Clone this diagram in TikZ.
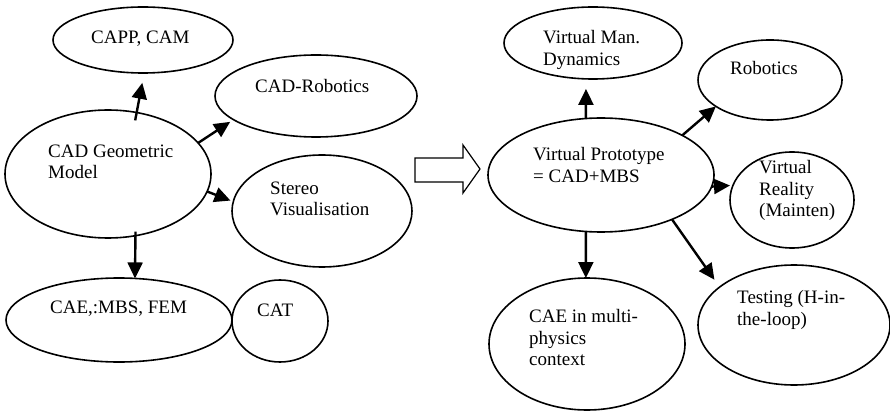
\documentclass[tikz,border=0pt]{standalone}
\usepackage{fontspec}
\setmainfont{Liberation Serif}
\usetikzlibrary{shapes.geometric,arrows.meta}
\begin{document}
\begin{tikzpicture}[x=1pt,y=1pt,
  bubble/.style={ellipse,draw,line width=1.6pt,inner sep=0pt,outer sep=0pt},
  lbl/.style={anchor=north west,inner sep=0pt,align=left,font=\fontsize{19}{21.5}\selectfont},
  link/.style={line width=2.4pt,-{Triangle[length=16pt,width=15pt]}}]
\useasboundingbox (0,0) rectangle (890,-411);

% left group
\node[bubble,minimum width=180pt,minimum height=66pt] (capp) at (143,-40) {};
\node[bubble,minimum width=202pt,minimum height=82pt] (cadrob) at (316,-96) {};
\node[bubble,minimum width=206pt,minimum height=128pt] (geo) at (108,-174) {};
\node[bubble,minimum width=180pt,minimum height=112pt] (ster) at (322,-211) {};
\node[bubble,minimum width=226pt,minimum height=84pt] (cae) at (119,-320) {};
\node[bubble,minimum width=96pt,minimum height=82pt] (cat) at (280,-321) {};

\node[lbl] (tcapp) at (91,-30.5) {CAPP, CAM};
\node[lbl] (tcadrob) at (255,-79.5) {CAD-Robotics};
\node[lbl] (tgeo) at (48,-144.5) {CAD Geometric\\Model};
\node[lbl] (tster) at (270,-181.5) {Stereo\\Visualisation};
\node[lbl] (tcae) at (50,-300.5) {CAE,:MBS, FEM};
\node[lbl] (tcat) at (257,-303.5) {CAT};

% right group
\node[bubble,minimum width=178pt,minimum height=72pt] (vmd) at (593,-43) {};
\node[bubble,minimum width=144pt,minimum height=80pt] (robo) at (770,-80) {};
\node[bubble,minimum width=226pt,minimum height=114pt] (vp) at (601,-175) {};
\node[bubble,minimum width=124pt,minimum height=96pt] (vr) at (792,-200) {};
\node[bubble,minimum width=196pt,minimum height=132pt] (cmp) at (587,-344) {};
\node[bubble,minimum width=192pt,minimum height=120pt] (test) at (794,-325) {};

\node[lbl] (tvmd) at (543,-30.5) {Virtual Man.\\Dynamics};
\node[lbl] (trobo) at (730,-61.5) {Robotics};
\node[lbl] (tvp) at (533,-147.5) {Virtual Prototype\\= CAD+MBS};
\node[lbl] (tvr) at (759,-160.5) {Virtual\\Reality\\(Mainten)};
\node[lbl] (ttest) at (737,-290.5) {Testing (H-in-\\the-loop)};
\node[lbl] (tcmp) at (529,-309.5) {CAE in multi-\\physics\\context};

% hollow block arrow
\draw[line width=1.2pt] (415,-158) -- (463,-158) -- (463,-145) -- (480,-169)
  -- (463,-193) -- (463,-182) -- (415,-182) -- cycle;

% connectors
\draw[link,shorten <=-8pt,shorten >=10pt] (geo.65) -- (capp.-88);
\draw[link,shorten >=4pt] (geo.19) -- (cadrob.196);
\draw[link,shorten >=3pt] (geo.-10) -- (ster.174);
\draw[link,shorten <=-4pt] (geo.-66) -- (cae.69);

\draw[link,shorten >=10pt] (vp.105) -- (vmd.-101);
\draw[link] (vp.26) -- (robo.206);
\draw[link,shorten >=3pt] (vp.-6) -- (vr.166);
\draw[link] (vp.-105) -- (cmp.91);
\draw[link,shorten >=9pt] (vp.-32) -- (test.153);
\end{tikzpicture}
\end{document}
